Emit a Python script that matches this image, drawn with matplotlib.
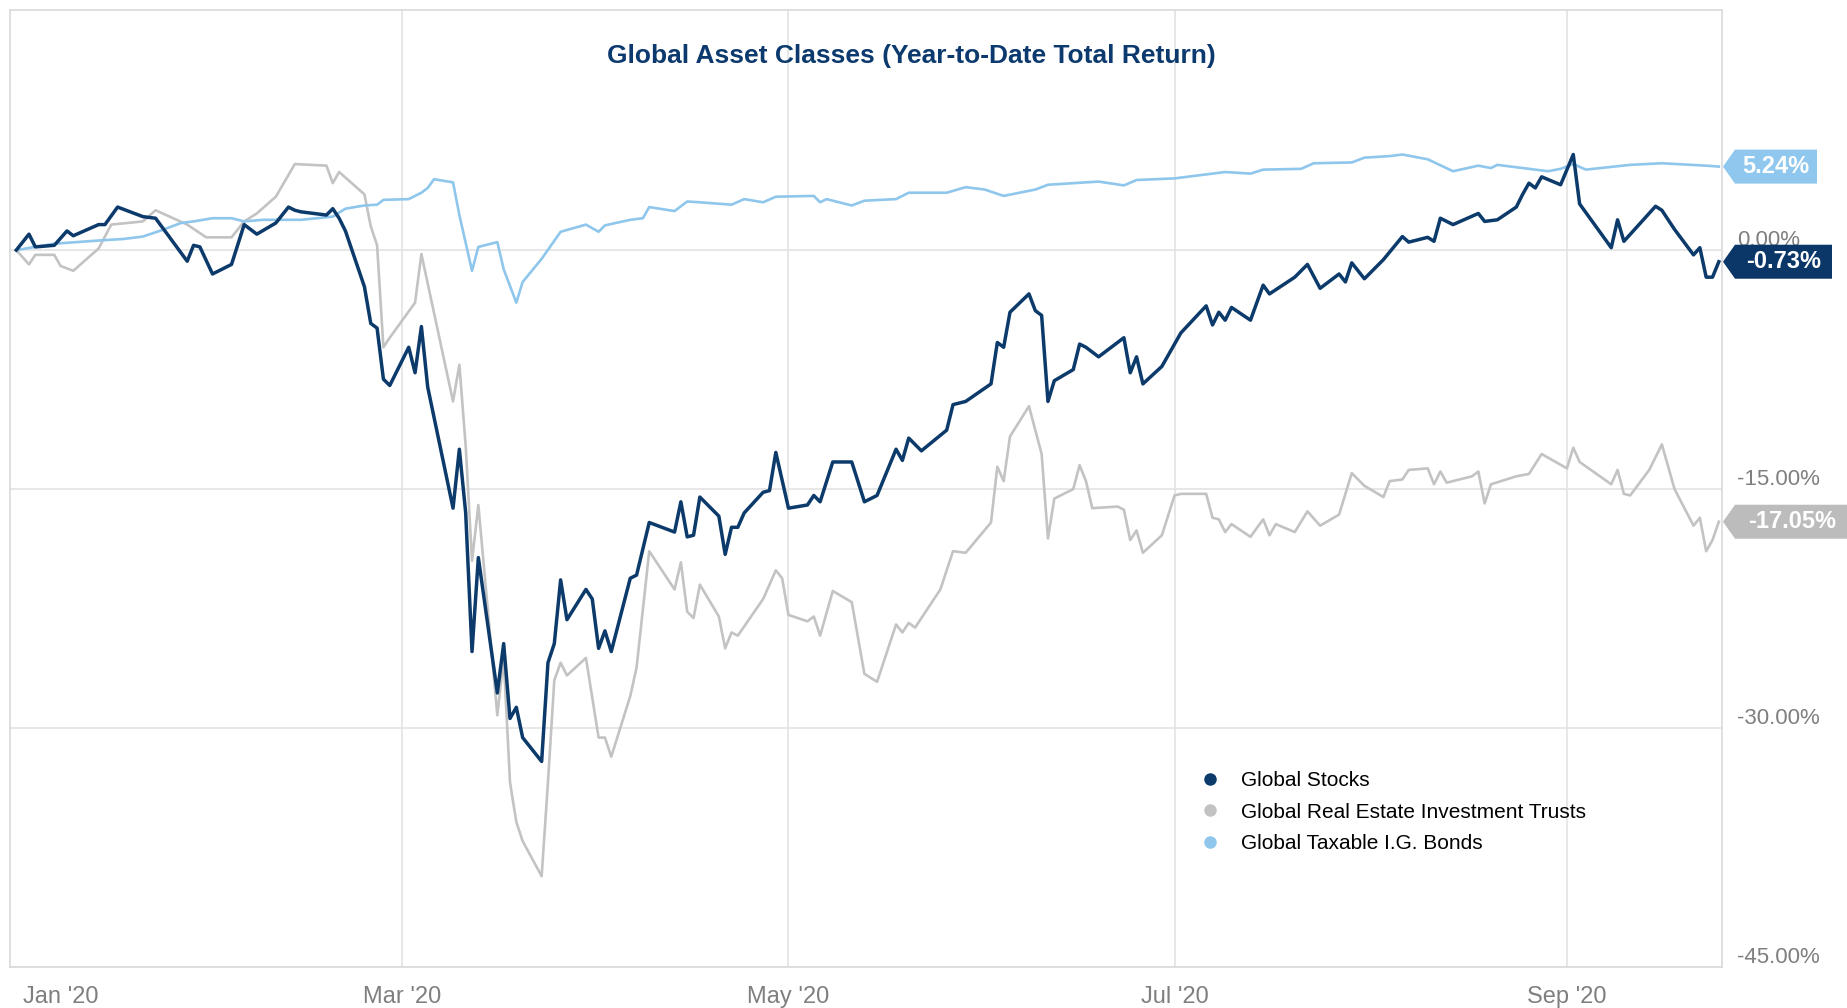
import matplotlib
matplotlib.use("Agg")
import matplotlib.pyplot as plt
import matplotlib.dates as mdates
from matplotlib.lines import Line2D
from matplotlib.patches import Polygon
from matplotlib.transforms import IdentityTransform
import pandas as pd

# Year-to-date total return, % (read at the turning points of each series)
stock_dates = ["2019-12-31", "2020-01-02", "2020-01-03", "2020-01-06", "2020-01-08", "2020-01-09",
               "2020-01-13", "2020-01-14", "2020-01-16", "2020-01-20", "2020-01-22", "2020-01-27",
               "2020-01-28", "2020-01-29", "2020-01-31", "2020-02-03", "2020-02-05", "2020-02-07",
               "2020-02-10", "2020-02-12", "2020-02-13", "2020-02-14", "2020-02-18", "2020-02-19",
               "2020-02-20", "2020-02-21", "2020-02-24", "2020-02-25", "2020-02-26", "2020-02-27",
               "2020-02-28", "2020-03-02", "2020-03-03", "2020-03-04", "2020-03-05", "2020-03-09",
               "2020-03-10", "2020-03-11", "2020-03-12", "2020-03-13", "2020-03-16", "2020-03-17",
               "2020-03-18", "2020-03-19", "2020-03-20", "2020-03-23", "2020-03-24", "2020-03-25",
               "2020-03-26", "2020-03-27", "2020-03-30", "2020-03-31", "2020-04-01", "2020-04-02",
               "2020-04-03", "2020-04-06", "2020-04-07", "2020-04-09", "2020-04-13", "2020-04-14",
               "2020-04-15", "2020-04-16", "2020-04-17", "2020-04-20", "2020-04-21", "2020-04-22",
               "2020-04-23", "2020-04-24", "2020-04-27", "2020-04-28", "2020-04-29", "2020-05-01",
               "2020-05-04", "2020-05-05", "2020-05-06", "2020-05-08", "2020-05-11", "2020-05-13",
               "2020-05-15", "2020-05-18", "2020-05-19", "2020-05-20", "2020-05-22", "2020-05-26",
               "2020-05-27", "2020-05-29", "2020-06-02", "2020-06-03", "2020-06-04", "2020-06-05",
               "2020-06-08", "2020-06-09", "2020-06-10", "2020-06-11", "2020-06-12", "2020-06-15",
               "2020-06-16", "2020-06-17", "2020-06-19", "2020-06-23", "2020-06-24", "2020-06-25",
               "2020-06-26", "2020-06-29", "2020-07-02", "2020-07-06", "2020-07-07", "2020-07-08",
               "2020-07-09", "2020-07-10", "2020-07-13", "2020-07-15", "2020-07-16", "2020-07-20",
               "2020-07-22", "2020-07-24", "2020-07-27", "2020-07-28", "2020-07-29", "2020-07-31",
               "2020-08-03", "2020-08-06", "2020-08-07", "2020-08-10", "2020-08-11", "2020-08-12",
               "2020-08-14", "2020-08-18", "2020-08-19", "2020-08-21", "2020-08-24", "2020-08-25",
               "2020-08-26", "2020-08-27", "2020-08-28", "2020-08-31", "2020-09-02", "2020-09-03",
               "2020-09-08", "2020-09-09", "2020-09-10", "2020-09-15", "2020-09-16", "2020-09-18",
               "2020-09-21", "2020-09-22", "2020-09-23", "2020-09-24", "2020-09-25"]
stock_vals = [0.0, 1.0, 0.2, 0.3, 1.2, 0.9,
              1.6, 1.6, 2.7, 2.1, 2.0, -0.7,
              0.3, 0.2, -1.5, -0.9, 1.6, 1.0,
              1.7, 2.7, 2.5, 2.4, 2.2, 2.6,
              2.0, 1.2, -2.3, -4.6, -4.9, -8.1,
              -8.5, -6.1, -7.7, -4.8, -8.6, -16.2,
              -12.5, -16.5, -25.2, -19.3, -27.8, -24.7,
              -29.4, -28.7, -30.6, -32.1, -25.9, -24.7,
              -20.7, -23.2, -21.3, -21.9, -25.0, -23.9,
              -25.2, -20.6, -20.4, -17.1, -17.7, -15.8,
              -18.0, -17.9, -15.5, -16.7, -19.1, -17.4,
              -17.4, -16.5, -15.2, -15.1, -12.7, -16.2,
              -16.0, -15.4, -15.8, -13.3, -13.3, -15.8,
              -15.4, -12.5, -13.2, -11.8, -12.6, -11.3,
              -9.7, -9.5, -8.4, -5.8, -6.1, -3.9,
              -2.75, -3.8, -4.1, -9.5, -8.2, -7.5,
              -5.9, -6.1, -6.7, -5.5, -7.7, -6.7,
              -8.4, -7.3, -5.2, -3.5, -4.7, -3.9,
              -4.4, -3.6, -4.4, -2.2, -2.75, -1.7,
              -0.9, -2.4, -1.5, -2.0, -0.8, -1.8,
              -0.6, 0.85, 0.5, 0.8, 0.55, 2.0,
              1.6, 2.3, 1.8, 1.9, 2.7, 3.5,
              4.2, 3.9, 4.6, 4.1, 6.0, 2.9,
              0.15, 1.9, 0.55, 2.75, 2.5, 1.3,
              -0.3, 0.15, -1.7, -1.7, -0.73]

reit_dates = ["2019-12-31", "2020-01-02", "2020-01-03", "2020-01-06", "2020-01-07", "2020-01-09",
              "2020-01-13", "2020-01-15", "2020-01-20", "2020-01-22", "2020-01-27", "2020-01-30",
              "2020-02-03", "2020-02-05", "2020-02-07", "2020-02-10", "2020-02-13", "2020-02-18",
              "2020-02-19", "2020-02-20", "2020-02-24", "2020-02-25", "2020-02-26", "2020-02-27",
              "2020-02-28", "2020-03-03", "2020-03-04", "2020-03-05", "2020-03-09", "2020-03-10",
              "2020-03-11", "2020-03-12", "2020-03-13", "2020-03-16", "2020-03-17", "2020-03-18",
              "2020-03-19", "2020-03-20", "2020-03-23", "2020-03-24", "2020-03-25", "2020-03-26",
              "2020-03-27", "2020-03-30", "2020-04-01", "2020-04-02", "2020-04-03", "2020-04-06",
              "2020-04-07", "2020-04-09", "2020-04-13", "2020-04-14", "2020-04-15", "2020-04-16",
              "2020-04-17", "2020-04-20", "2020-04-21", "2020-04-22", "2020-04-23", "2020-04-27",
              "2020-04-29", "2020-04-30", "2020-05-01", "2020-05-04", "2020-05-05", "2020-05-06",
              "2020-05-08", "2020-05-11", "2020-05-13", "2020-05-15", "2020-05-18", "2020-05-19",
              "2020-05-20", "2020-05-21", "2020-05-25", "2020-05-27", "2020-05-29", "2020-06-02",
              "2020-06-03", "2020-06-04", "2020-06-05", "2020-06-08", "2020-06-10", "2020-06-11",
              "2020-06-12", "2020-06-15", "2020-06-16", "2020-06-17", "2020-06-18", "2020-06-22",
              "2020-06-23", "2020-06-24", "2020-06-25", "2020-06-26", "2020-06-29", "2020-07-01",
              "2020-07-02", "2020-07-06", "2020-07-07", "2020-07-08", "2020-07-09", "2020-07-10",
              "2020-07-13", "2020-07-15", "2020-07-16", "2020-07-17", "2020-07-20", "2020-07-22",
              "2020-07-24", "2020-07-27", "2020-07-29", "2020-07-31", "2020-08-03", "2020-08-04",
              "2020-08-06", "2020-08-07", "2020-08-10", "2020-08-11", "2020-08-12", "2020-08-13",
              "2020-08-17", "2020-08-18", "2020-08-19", "2020-08-20", "2020-08-24", "2020-08-26",
              "2020-08-28", "2020-09-01", "2020-09-02", "2020-09-03", "2020-09-08", "2020-09-09",
              "2020-09-10", "2020-09-11", "2020-09-14", "2020-09-16", "2020-09-18", "2020-09-21",
              "2020-09-22", "2020-09-23", "2020-09-24", "2020-09-25"]
reit_vals = [0.0, -0.9, -0.3, -0.3, -1.0, -1.3,
             0.1, 1.6, 1.8, 2.5, 1.6, 0.8,
             0.8, 1.8, 2.3, 3.35, 5.4, 5.3,
             4.2, 4.9, 3.5, 1.5, 0.3, -6.1,
             -5.5, -3.3, -0.25, -2.1, -9.5, -7.2,
             -12.3, -19.5, -16.0, -29.2, -25.6, -33.4,
             -35.9, -37.1, -39.3, -33.4, -27.0, -25.9,
             -26.7, -25.6, -30.6, -30.6, -31.8, -28.0,
             -26.2, -18.9, -21.3, -19.6, -22.7, -23.1,
             -21.0, -23.0, -25.0, -24.0, -24.2, -21.9,
             -20.1, -20.6, -22.9, -23.3, -23.0, -24.2,
             -21.4, -22.1, -26.6, -27.1, -23.5, -24.0,
             -23.4, -23.7, -21.3, -18.9, -19.0, -17.1,
             -13.6, -14.5, -11.7, -9.8, -12.8, -18.1,
             -15.6, -15.0, -13.5, -14.5, -16.2, -16.1,
             -16.3, -18.2, -17.6, -19.0, -17.9, -15.4,
             -15.3, -15.3, -16.8, -16.9, -17.7, -17.2,
             -18.0, -16.9, -17.9, -17.2, -17.7, -16.4,
             -17.3, -16.6, -14.0, -14.8, -15.5, -14.5,
             -14.4, -13.8, -13.7, -14.7, -13.9, -14.6,
             -14.2, -13.9, -15.9, -14.7, -14.2, -14.05,
             -12.8, -13.7, -12.4, -13.3, -14.7, -13.8,
             -15.3, -15.4, -13.8, -12.2, -15.0, -17.3,
             -16.8, -18.9, -18.2, -17.05]

bond_dates = ["2019-12-31", "2020-01-06", "2020-01-13", "2020-01-17", "2020-01-20", "2020-01-23",
              "2020-01-26", "2020-01-28", "2020-01-31", "2020-02-03", "2020-02-05", "2020-02-08",
              "2020-02-14", "2020-02-19", "2020-02-21", "2020-02-24", "2020-02-26", "2020-02-27",
              "2020-03-02", "2020-03-04", "2020-03-05", "2020-03-06", "2020-03-09", "2020-03-10",
              "2020-03-12", "2020-03-13", "2020-03-16", "2020-03-17", "2020-03-19", "2020-03-20",
              "2020-03-23", "2020-03-26", "2020-03-30", "2020-04-01", "2020-04-02", "2020-04-06",
              "2020-04-08", "2020-04-09", "2020-04-13", "2020-04-15", "2020-04-17", "2020-04-22",
              "2020-04-24", "2020-04-27", "2020-04-29", "2020-05-05", "2020-05-06", "2020-05-07",
              "2020-05-11", "2020-05-13", "2020-05-18", "2020-05-20", "2020-05-26", "2020-05-29",
              "2020-06-01", "2020-06-04", "2020-06-09", "2020-06-11", "2020-06-19", "2020-06-23",
              "2020-06-25", "2020-07-01", "2020-07-05", "2020-07-09", "2020-07-13", "2020-07-15",
              "2020-07-21", "2020-07-23", "2020-07-29", "2020-07-31", "2020-08-04", "2020-08-06",
              "2020-08-10", "2020-08-14", "2020-08-18", "2020-08-20", "2020-08-21", "2020-08-27",
              "2020-08-29", "2020-08-31", "2020-09-02", "2020-09-04", "2020-09-11", "2020-09-16",
              "2020-09-23", "2020-09-25"]
bond_vals = [0.0, 0.4, 0.6, 0.7, 0.85, 1.25,
             1.7, 1.8, 2.0, 2.0, 1.8, 1.9,
             1.9, 2.1, 2.6, 2.8, 2.85, 3.15,
             3.2, 3.6, 3.9, 4.45, 4.25, 2.2,
             -1.3, 0.2, 0.5, -1.2, -3.3, -2.0,
             -0.55, 1.15, 1.6, 1.15, 1.55, 1.9,
             2.0, 2.7, 2.45, 3.05, 3.0, 2.85,
             3.2, 3.0, 3.35, 3.4, 3.0, 3.2,
             2.8, 3.1, 3.2, 3.6, 3.6, 3.95,
             3.8, 3.4, 3.8, 4.1, 4.3, 4.06,
             4.4, 4.5, 4.7, 4.9, 4.8, 5.05,
             5.1, 5.45, 5.5, 5.8, 5.9, 6.0,
             5.7, 4.95, 5.3, 5.15, 5.35, 5.05,
             4.95, 5.1, 5.4, 5.05, 5.35, 5.45,
             5.3, 5.24]

series_names = ["Global Stocks", "Global Real Estate Investment Trusts", "Global Taxable I.G. Bonds"]
series_colors = ["#0b3a6b", "#c3c3c3", "#8ec6ec"]

y_ticks = [0, -15, -30, -45]
grid_months = ["2020-03-01", "2020-05-01", "2020-07-01", "2020-09-01"]
month_labels = ["Jan '20", "Mar '20", "May '20", "Jul '20", "Sep '20"]
label_dates = ["2020-01-07", "2020-03-01", "2020-05-01", "2020-07-01", "2020-09-01"]

NARROW = ["Liberation Sans Narrow", "Liberation Sans"]
W, H = 1847, 1008

fig = plt.figure(figsize=(W / 100, H / 100), dpi=100)
ax = fig.add_axes([10 / W, 41 / H, 1712 / W, 957 / H])

stocks = pd.Series(stock_vals, index=pd.to_datetime(stock_dates))
reits = pd.Series(reit_vals, index=pd.to_datetime(reit_dates))
bonds = pd.Series(bond_vals, index=pd.to_datetime(bond_dates))

ax.plot(reits.index, reits.values, color=series_colors[1], lw=1.9, zorder=3)
ax.plot(bonds.index, bonds.values, color=series_colors[2], lw=1.9, zorder=4)
ax.plot(stocks.index, stocks.values, color=series_colors[0], lw=2.5, zorder=5)

ax.set_xlim(pd.Timestamp("2019-12-30"), pd.Timestamp("2020-09-25 12:00"))
ax.set_ylim(-45, 15.07)

ax.set_yticks(y_ticks)
ax.set_xticks(pd.to_datetime(grid_months))
ax.set_xticklabels([])
ax.set_yticklabels([])
ax.tick_params(length=0)
ax.grid(True, color="#e3e3e3", lw=1.2, zorder=0)
for sp in ax.spines.values():
    sp.set_color("#d9d9d9")
    sp.set_linewidth(1.2)

# y labels on the right, sitting just above their gridline
for t in y_ticks:
    ax.annotate(f"{t:.2f}%", xy=(1, t), xycoords=("axes fraction", "data"),
                xytext=(11, 3), textcoords="offset points", ha="left", va="baseline",
                fontsize=16, color="#7f7f7f", family=NARROW)

for lab, d in zip(month_labels, label_dates):
    ax.annotate(lab, xy=(pd.Timestamp(d), 0), xycoords=("data", "axes fraction"),
                xytext=(0, -21.5), textcoords="offset points", ha="center", va="center",
                fontsize=17, color="#7f7f7f", family=NARROW)

fig.text(911 / W, 1 - 56 / H, "Global Asset Classes (Year-to-Date Total Return)",
         ha="center", va="center", fontsize=19, fontweight="bold", color="#0c3a6e",
         family=NARROW)

handles = [Line2D([], [], marker="o", ls="", ms=9, color=c, markeredgewidth=0) for c in series_colors]
ax.legend(handles, series_names, loc="upper left", bbox_to_anchor=(1200 / W, 1 - 771 / H),
          bbox_transform=fig.transFigure, frameon=False, handlelength=1.0,
          handletextpad=0.95, labelspacing=0.6, borderpad=0, borderaxespad=0,
          prop={"family": "Liberation Sans", "size": 15})


# last-value flags hanging off the right edge
def flag(value, text, color, width):
    x0, y0 = ax.transData.transform((mdates.date2num(pd.Timestamp("2020-09-25 12:00")), value))
    x0 += 1
    h = 17
    verts = [(x0, y0), (x0 + 12, y0 + h), (x0 + width, y0 + h), (x0 + width, y0 - h), (x0 + 12, y0 - h)]
    fig.add_artist(Polygon(verts, closed=True, facecolor=color, edgecolor="none",
                           transform=IdentityTransform(), zorder=10))
    fig.text((x0 + 12 + (width - 12) / 2) / W, y0 / H, text, ha="center", va="center",
             fontsize=17, fontweight="bold", color="white", family=NARROW, zorder=11)


flag(bonds.values[-1], f"{bonds.values[-1]:.2f}%", "#8fc7ee", 94)
flag(stocks.values[-1], f"{stocks.values[-1]:.2f}%", "#0a3768", 109)
flag(reits.values[-1], f"{reits.values[-1]:.2f}%", "#bcbcbc", 126)

fig.savefig("out.png", dpi=100, facecolor="white")
